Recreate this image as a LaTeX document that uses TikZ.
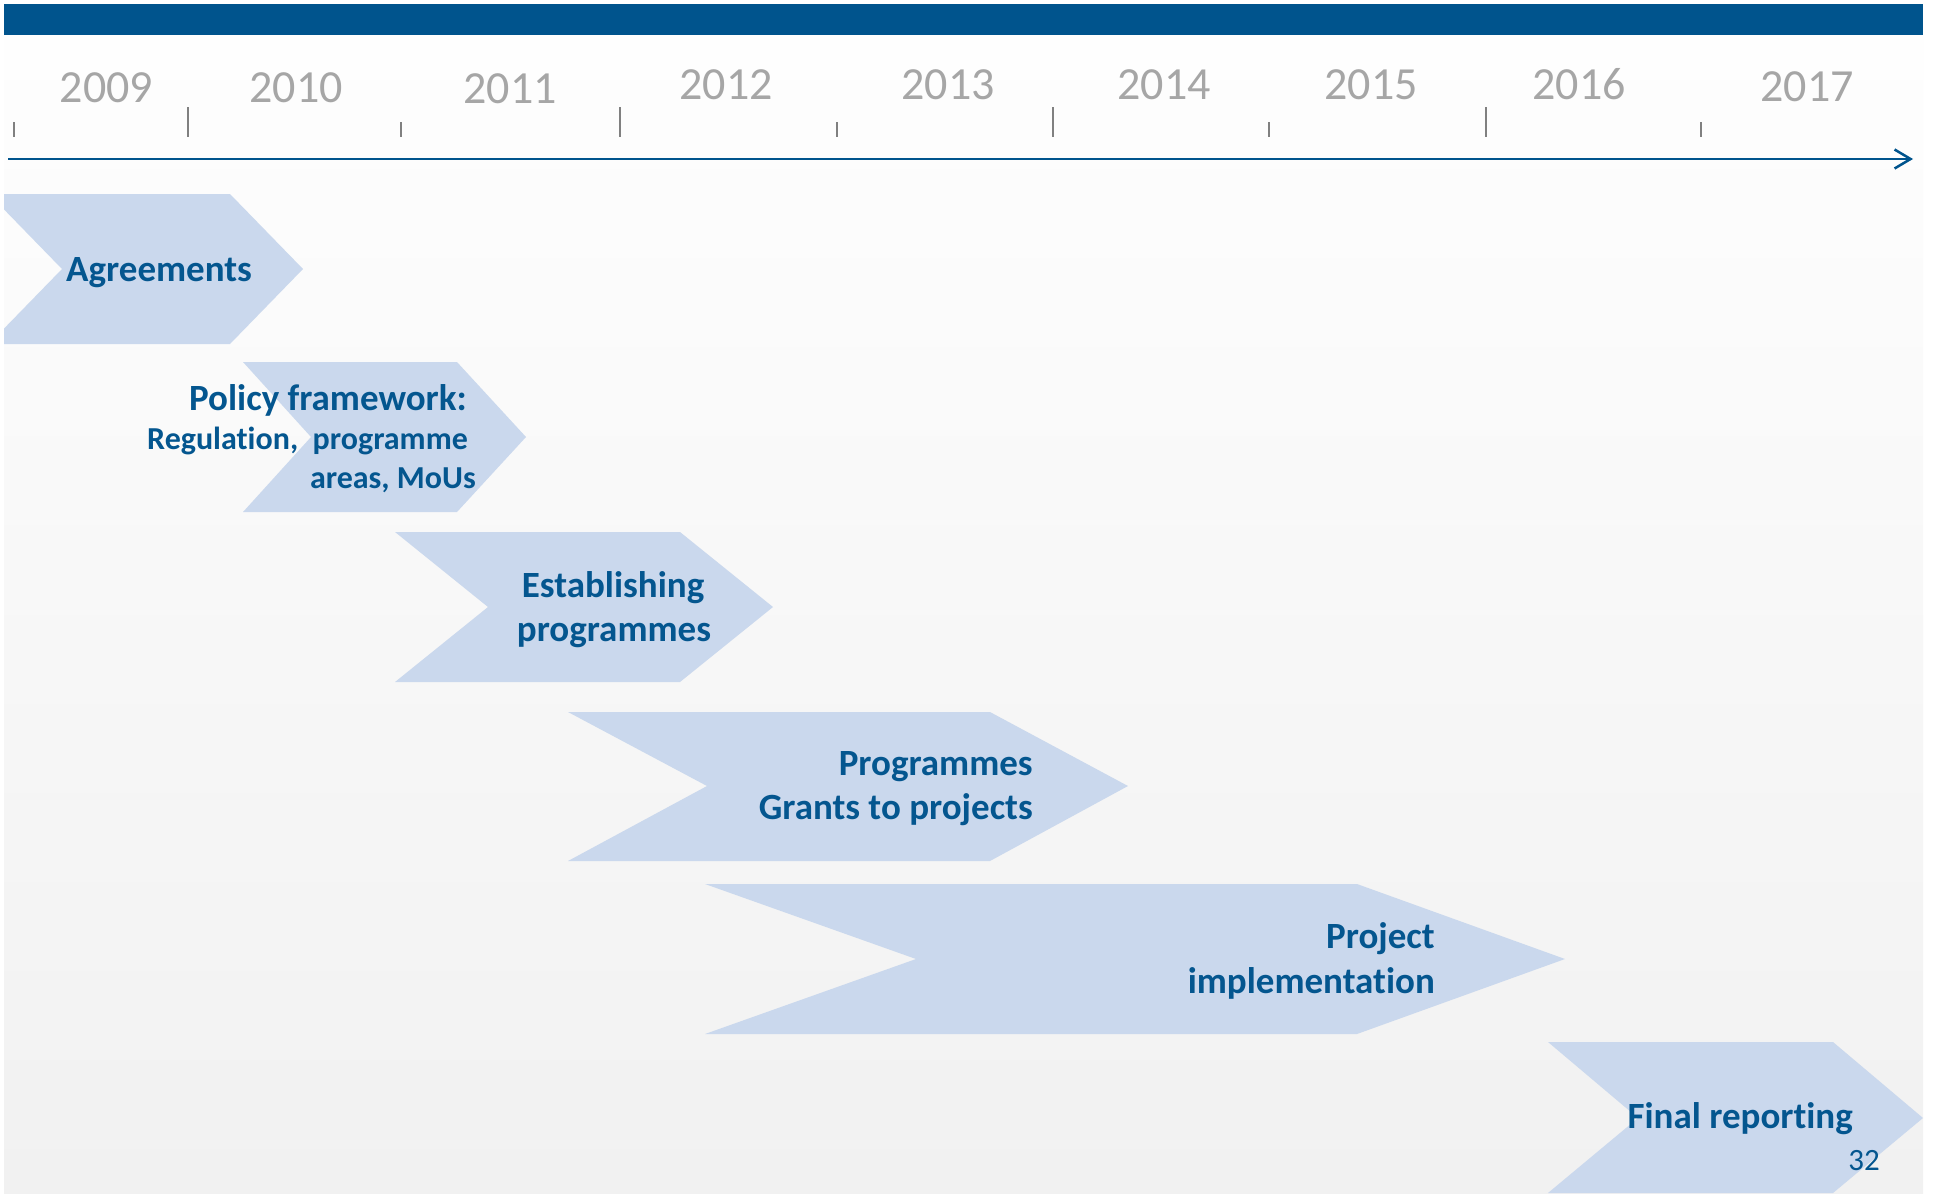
\documentclass[tikz,border=0pt]{standalone}
\usepackage{fontspec}
\setmainfont{Carlito}[Ligatures=NoCommon]
\usetikzlibrary{arrows.meta}
\definecolor{barblue}{RGB}{0,84,141}
\definecolor{txtblue}{RGB}{4,86,143}
\definecolor{chevfill}{RGB}{202,216,237}
\definecolor{yeargray}{RGB}{166,166,166}
\definecolor{tickgray}{RGB}{128,128,128}
\definecolor{bgtop}{RGB}{254,254,254}
\definecolor{bgbot}{RGB}{241,241,241}
\begin{document}
\begin{tikzpicture}[x=1pt,y=-1pt,
  chevron/.style={fill=chevfill, draw=none},
  yearlbl/.style={anchor=base, text=yeargray, inner sep=0pt, font=\fontsize{46}{55}\selectfont},
  biglbl/.style={inner sep=0pt, text=txtblue, font=\bfseries\fontsize{37}{44}\selectfont},
  smalllbl/.style={inner sep=0pt, text=txtblue, font=\bfseries\fontsize{32}{38}\selectfont},
  pagelbl/.style={inner sep=0pt, text=txtblue, font=\fontsize{31}{37}\selectfont},
  tickline/.style={draw=tickgray, line width=2pt},
  axisline/.style={draw=barblue, line width=2.5pt, -{Straight Barb[length=16pt,width=19pt]}}
]
\useasboundingbox (0,0) rectangle (1933,1197);
\fill[white] (0,0) rectangle (1933,1197);
\shade[top color=bgtop, bottom color=bgbot] (4,35) rectangle (1923,1193);
\fill[barblue] (4,4) rectangle (1923,35);

% years
\node[yearlbl] (y2009) at (106.5,102) {2009};
\node[yearlbl] (y2010) at (296,102) {2010};
\node[yearlbl] (y2011) at (510,103) {2011};
\node[yearlbl] (y2012) at (726,99) {2012};
\node[yearlbl] (y2013) at (948,99) {2013};
\node[yearlbl] (y2014) at (1164,99) {2014};
\node[yearlbl] (y2015) at (1371,99) {2015};
\node[yearlbl] (y2016) at (1579,99) {2016};
\node[yearlbl] (y2017) at (1807,101) {2017};

% ticks
\foreach \x in {14,401,837,1269,1701} \draw[tickline] (\x,122) -- (\x,137);
\foreach \x in {188,620,1053,1486} \draw[tickline] (\x,107) -- (\x,137);

% axis
\coordinate (axisstart) at (8,159);
\coordinate (axisend) at (1913,159);
\draw[axisline] (axisstart) -- (axisend);

% chevrons
\begin{scope}
\clip (4,35) rectangle (1923,1197);
\path[chevron] (-11,194) -- (230,194) -- (303,269) -- (230,344) -- (-11,344) -- (62,269) -- cycle;
\path[chevron] (243,362) -- (457,362) -- (526,437) -- (457,512) -- (243,512) -- (311,437) -- cycle;
\path[chevron] (395,532) -- (680,532) -- (773,607) -- (680,682) -- (395,682) -- (488,607) -- cycle;
\path[chevron] (568,712) -- (990,712) -- (1128,786) -- (990,861) -- (568,861) -- (707,786) -- cycle;
\path[chevron] (705,884) -- (1357,884) -- (1565,959) -- (1357,1034) -- (705,1034) -- (916,959) -- cycle;
\path[chevron] (1548,1042) -- (1833,1042) -- (1923,1118) -- (1833,1193) -- (1548,1193) -- (1638,1118) -- cycle;
\end{scope}

% labels
\node[biglbl, anchor=base west] (agree) at (66,281) {Agreements};
\node[biglbl, anchor=base east] (policy) at (467,410) {Policy framework:};
\node[smalllbl, anchor=base east] (policy2) at (468,449) {Regulation,\ \ programme};
\node[smalllbl, anchor=base east] (policy3) at (476,488) {areas, MoUs};
\node[biglbl, anchor=base] (estab1) at (613,597) {Establishing};
\node[biglbl, anchor=base] (estab2) at (614,641) {programmes};
\node[biglbl, anchor=base east] (prog1) at (1033,775) {Programmes};
\node[biglbl, anchor=base east] (prog2) at (1033,819) {Grants to projects};
\node[biglbl, anchor=base east] (impl1) at (1435,948) {Project};
\node[biglbl, anchor=base east] (impl2) at (1435,993) {implementation};
\node[biglbl, anchor=base east] (final) at (1853,1128) {Final reporting};
\node[pagelbl, anchor=base east] (page) at (1880,1170) {32};
\end{tikzpicture}
\end{document}
